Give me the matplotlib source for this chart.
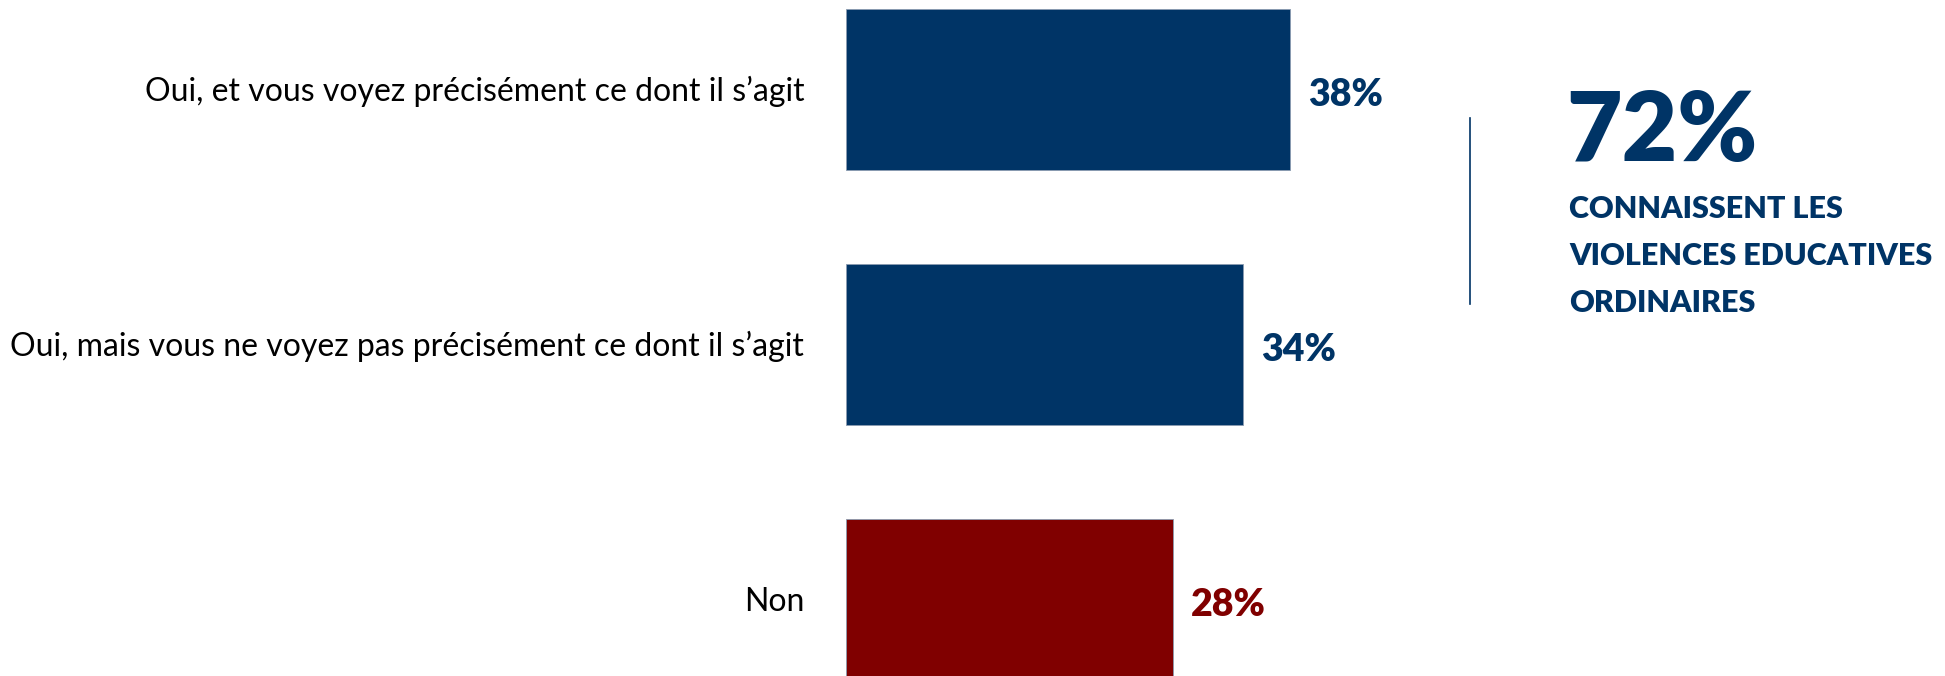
import matplotlib
matplotlib.use("Agg")
import matplotlib.pyplot as plt
from matplotlib.lines import Line2D

categories = ["Oui, et vous voyez précisément ce dont il s’agit",
              "Oui, mais vous ne voyez pas précisément ce dont il s’agit",
              "Non"]
values = [38, 34, 28]
value_labels = ["38%", "34%", "28%"]
total_label = "72%"
total_text = ["CONNAISSENT LES", "VIOLENCES EDUCATIVES", "ORDINAIRES"]

NAVY = "#003466"
RED = "#800000"
colors = [NAVY, NAVY, RED]

W, H = 1945, 676
fig = plt.figure(figsize=(W / 100, H / 100), dpi=100)
plt.rcParams['font.family'] = ['Lato', 'DejaVu Sans']

ax_left = 846 / W
ax_w = 701 / W
ax = fig.add_axes([ax_left, 0, ax_w, 1])
ypos = list(range(len(categories)))
ax.barh(ypos, values, height=0.63, color=colors, edgecolor="#8a9bb0", linewidth=0.6)
ax.set_xlim(0, 60)
ax.set_ylim(2.3, -0.351)
ax.axis("off")

for y, v, lab, c, cat in zip(ypos, values, value_labels, colors, categories):
    ax.annotate(lab, xy=(v, y), xytext=(13, -4), textcoords="offset points",
                color=c, fontsize=27, fontweight="heavy", va="center", ha="left")
    ax.annotate(cat, xy=(0, y), xytext=(-30, -1.5), textcoords="offset points",
                ha="right", va="center", fontsize=23, color="black")

fig.add_artist(Line2D([1470 / W, 1470 / W], [1 - 118 / H, 1 - 304 / H],
                      color=NAVY, linewidth=1.2))
fig.text(1566 / W, 1 - 161 / H, total_label, color=NAVY, fontsize=69,
         fontweight="heavy", ha="left", va="baseline")
for i, line in enumerate(total_text):
    fig.text(1569 / W, 1 - (209 + 47 * i) / H, line, color=NAVY, fontsize=22,
             fontweight="heavy", ha="left", va="center")

fig.savefig("out.png", dpi=100)
